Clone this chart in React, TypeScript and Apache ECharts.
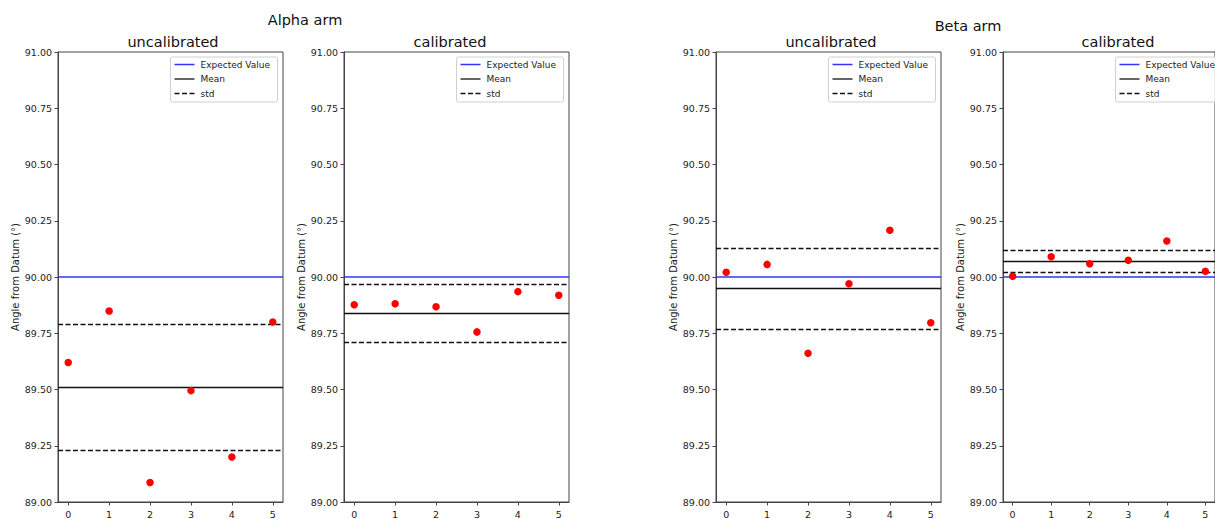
import React, { useEffect, useRef } from "react";
import * as echarts from "echarts";

// ---- data ----
const xValues = [0, 1, 2, 3, 4, 5];
const xTickLabels = ["0", "1", "2", "3", "4", "5"];
const yTicks = [89.0, 89.25, 89.5, 89.75, 90.0, 90.25, 90.5, 90.75, 91.0];

const alphaUncalibrated = [89.62, 89.849, 89.087, 89.495, 89.2, 89.8];
const alphaCalibrated = [89.877, 89.881, 89.868, 89.756, 89.935, 89.919];
const betaUncalibrated = [90.021, 90.056, 89.661, 89.97, 90.208, 89.797];
const betaCalibrated = [90.003, 90.09, 90.059, 90.074, 90.16, 90.025];

const expectedValue = 90.0;
const means = [89.509, 89.84, 89.953, 90.068];
const stdUpper = [89.794, 89.97, 90.131, 90.118];
const stdLower = [89.226, 89.709, 89.774, 90.023];

const panelTitles = ["uncalibrated", "calibrated", "uncalibrated", "calibrated"];
const groupTitles = ["Alpha arm", "Beta arm"];
const legendLabels = ["Expected Value", "Mean", "std"];
const yAxisName = "Angle from Datum (°)";

const panelValues = [alphaUncalibrated, alphaCalibrated, betaUncalibrated, betaCalibrated];

// ---- layout ----
const FONT = "'DejaVu Sans', sans-serif";
const panelLefts = [58, 344, 716, 1003];
const panelTop = 52;
const panelWidth = 225;
const panelHeight = 454;
const titleCenters = [173, 450, 831, 1118];
const groupTitlePos = [
  [305, 20],
  [968, 26],
];

export default function App() {
  const ref = useRef<HTMLDivElement>(null);

  useEffect(() => {
    if (!ref.current) return;
    const chart = echarts.init(ref.current, undefined, { renderer: "svg" });

    const grids = panelLefts.map((left) => ({
      left,
      top: panelTop,
      width: panelWidth,
      height: panelHeight,
      show: true,
      borderColor: "#444",
      borderWidth: 1,
      backgroundColor: "transparent",
      containLabel: false,
    }));

    const xAxes = panelLefts.map((_, i) => ({
      type: "value",
      gridIndex: i,
      min: -0.25,
      max: 5.25,
      splitLine: { show: false },
      axisLine: { show: true, onZero: false, lineStyle: { color: "#444", width: 1 } },
      axisTick: {
        show: true,
        inside: false,
        length: 3.5,
        lineStyle: { color: "#444" },
        customValues: xValues,
      },
      axisLabel: {
        show: true,
        customValues: xValues,
        formatter: (v: number) => xTickLabels[xValues.indexOf(Math.round(v))] ?? "",
        color: "#222",
        fontSize: 9.5,
        fontFamily: FONT,
        margin: 7,
      },
    }));

    const yAxes = panelLefts.map((_, i) => ({
      type: "value",
      gridIndex: i,
      min: yTicks[0],
      max: yTicks[yTicks.length - 1],
      interval: 0.25,
      splitLine: { show: false },
      axisLine: { show: true, onZero: false, lineStyle: { color: "#444", width: 1 } },
      axisTick: { show: true, inside: false, length: 3.5, lineStyle: { color: "#444" } },
      axisLabel: {
        color: "#222",
        fontSize: 9.5,
        fontFamily: FONT,
        margin: 6,
        formatter: (v: number) => v.toFixed(2),
      },
      name: yAxisName,
      nameLocation: "middle",
      nameRotate: 90,
      nameGap: 36,
      nameTextStyle: { color: "#222", fontSize: 10, fontFamily: FONT },
    }));

    const series: any[] = [];
    panelValues.forEach((vals, i) => {
      series.push({
        type: "line",
        name: "lines" + i,
        xAxisIndex: i,
        yAxisIndex: i,
        data: [],
        silent: true,
        z: 2,
        markLine: {
          silent: true,
          symbol: ["none", "none"],
          label: { show: false },
          animation: false,
          data: [
            { yAxis: expectedValue, lineStyle: { color: "#3333ff", width: 1.5, type: "solid" } },
            { yAxis: means[i], lineStyle: { color: "#111", width: 1.3, type: "solid" } },
            { yAxis: stdUpper[i], lineStyle: { color: "#111", width: 1.3, type: [5, 2.5] } },
            { yAxis: stdLower[i], lineStyle: { color: "#111", width: 1.3, type: [5, 2.5] } },
          ],
        },
      });
      series.push({
        type: "scatter",
        name: "points" + i,
        xAxisIndex: i,
        yAxisIndex: i,
        symbol: "circle",
        symbolSize: 7.5,
        itemStyle: { color: "#ff0000", opacity: 1 },
        z: 5,
        data: xValues.map((x, j) => [x, vals[j]]),
      });
    });

    const graphics: any[] = [];
    groupTitles.forEach((t, k) => {
      graphics.push({
        type: "text",
        x: groupTitlePos[k][0],
        y: groupTitlePos[k][1],
        style: {
          text: t,
          fontSize: 14.5,
          fontFamily: FONT,
          fill: "#111",
          align: "center",
          verticalAlign: "middle",
        },
      });
    });
    panelLefts.forEach((left, i) => {
      graphics.push({
        type: "text",
        x: titleCenters[i],
        y: 42,
        style: {
          text: panelTitles[i],
          fontSize: 14.5,
          fontFamily: FONT,
          fill: "#111",
          align: "center",
          verticalAlign: "middle",
        },
      });
      const lx = left + 112.5;
      const ly = 57;
      const lineStyles = [
        { stroke: "#3333ff", lineWidth: 1.5 },
        { stroke: "#111", lineWidth: 1.3 },
        { stroke: "#111", lineWidth: 1.3, lineDash: [5, 2.5] },
      ];
      const children: any[] = [
        {
          type: "rect",
          shape: { x: 0, y: 0, width: 107, height: 45, r: 2 },
          style: { fill: "rgba(255,255,255,0.8)", stroke: "#d0d0d0", lineWidth: 1 },
        },
      ];
      legendLabels.forEach((lab, k) => {
        const yy = 7.5 + k * 14.5;
        children.push({
          type: "line",
          shape: { x1: 4, y1: yy, x2: 24, y2: yy },
          style: lineStyles[k],
        });
        children.push({
          type: "text",
          x: 30,
          y: yy,
          style: {
            text: lab,
            fontSize: 9,
            fontFamily: FONT,
            fill: "#222",
            align: "left",
            verticalAlign: "middle",
          },
        });
      });
      graphics.push({ type: "group", x: lx, y: ly, z: 10, children });
    });

    chart.setOption({
      animation: false,
      backgroundColor: "#ffffff",
      grid: grids,
      xAxis: xAxes,
      yAxis: yAxes,
      series,
      graphic: graphics,
    });

    return () => chart.dispose();
  }, []);

  return (
    <div
      ref={ref}
      style={{ position: "fixed", left: 0, top: 0, width: 1215, height: 519 }}
    />
  );
}
